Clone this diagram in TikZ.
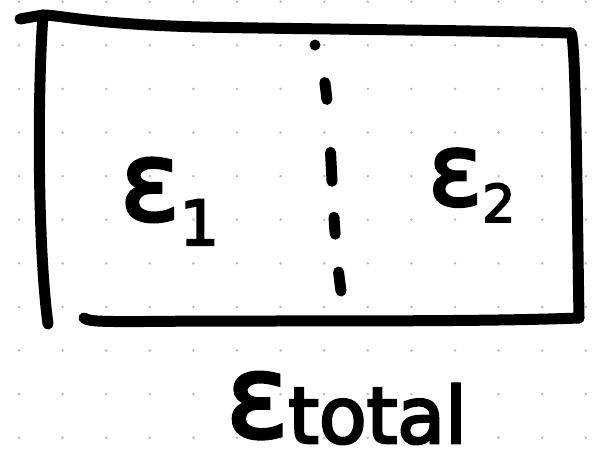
\documentclass[tikz,border=0pt]{standalone}
\usepackage{fontspec}
\newfontfamily\penfont[FakeBold=3.5]{DejaVu Sans}
\tikzset{
  pen/.style={line width=11pt, line cap=round, line join=round},
  gridpt/.style={fill=black!28},
  handlabel/.style={inner sep=0pt, font=\penfont, anchor=base west}
}
\begin{document}
\begin{tikzpicture}[x=1pt, y=-1pt]
  \useasboundingbox (0,0) rectangle (594,464);
  \foreach \i in {0,...,13} {
    \foreach \j in {0,...,10} {
      \fill[gridpt] (19+43.6*\i, 1.7+43.6*\j) circle (1.4pt);
    }
  }

  \coordinate (tl) at (43,15);
  \coordinate (tr) at (571,33);
  \coordinate (br) at (579,318);
  \coordinate (bl) at (48,324);
  \coordinate (divtop) at (315,45);
  \coordinate (divbot) at (341,291);

  % box
  \draw[pen] (20,19) -- (tl) .. controls (60,15) and (90,24) .. (200,27)
    .. controls (300,29) and (450,30) .. (tr);
  \draw[pen] (tl) .. controls (37,100) and (38,250) .. (bl);
  \draw[pen] (tr) .. controls (576,40) and (577,200) .. (br);
  \draw[pen] (84,318) .. controls (90,322) and (100,322) .. (200,321)
    .. controls (400,321) and (500,321) .. (br);

  % divider
  \draw[pen, dash pattern={on 0pt off 39pt on 17pt off 53pt on 29pt off 36pt on 17pt off 38pt on 17pt}]
    (divtop) .. controls (334,80) and (328,200) .. (divbot);

  \node[handlabel] (e1) at (120,220) {\fontsize{110}{110}\selectfont ε\raisebox{-25pt}{\fontsize{62}{62}\selectfont 1}};
  \node[handlabel] (e2) at (428,205) {\fontsize{100}{100}\selectfont ε\raisebox{-17pt}{\fontsize{52}{52}\selectfont 2}};
  \node[handlabel] (etot) at (226,437) {\fontsize{115}{115}\selectfont ε\raisebox{-6pt}{\fontsize{78}{78}\selectfont total}};
\end{tikzpicture}
\end{document}
